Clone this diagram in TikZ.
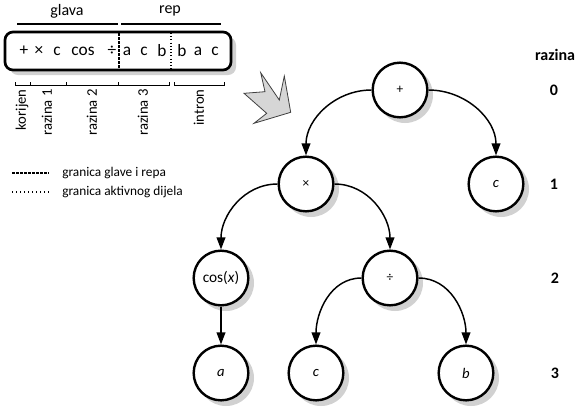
\documentclass[tikz,border=0pt]{standalone}
\usepackage{fontspec}
\setmainfont{Carlito}
\usetikzlibrary{arrows.meta}
\pgfdeclarelayer{background}
\pgfsetlayers{background,main}

\tikzset{every picture/.style={line width=0.45pt}}
\tikzset{
  knot/.style={circle, draw, line width=1.8pt, fill=white, minimum size=41pt, inner sep=0pt},
  edge/.style={line width=1.1pt, -{Triangle[length=9pt,width=6.5pt]}},
  level/.style={font=\fontsize{12}{14}\bfseries\selectfont},
  gene/.style={inner sep=0pt, font=\fontsize{13}{15}\selectfont},
  part/.style={rotate=90, anchor=east, inner sep=0pt, font=\fontsize{11}{13}\selectfont},
  legend/.style={anchor=west, inner sep=0pt, font=\fontsize{10}{12}\selectfont}
}

\begin{document}
\begin{tikzpicture}[x=0.75pt,y=0.75pt,yscale=-1,xscale=1]
\useasboundingbox (0,0) rectangle (581,415);

%Rounded Rect: gene string
\fill [black!18, rounded corners=6pt] (10,37) rectangle (236,75);
\draw [line width=2pt, rounded corners=6pt, fill=white] (5,32) rectangle (231,70);
\draw [line width=0.8pt, dash pattern={on 2pt off 1pt}] (119,33) -- (119,69);
\draw [line width=0.8pt, dash pattern={on 0.8pt off 1.6pt}] (171,33) -- (171,69);
% Text Node
\foreach \x/\s [count=\i] in {24/+, 39/×, 57/c, 83/cos, 112/÷, 127/a, 144/c, 162/b, 182/b, 198/a, 215/c}
  \node [gene] (g\i) at (\x,51) {\s};

%Straight Lines: head and tail
\draw [line width=1.1pt] (17,24) -- (118,24);
\draw [line width=1.1pt] (121,24) -- (221,24);
\node [font=\fontsize{12}{14}\selectfont] (glava) at (67,11) {glava};
\node [font=\fontsize{12}{14}\selectfont] (rep) at (170,11) {rep};

%Brackets below
\draw [line width=0.7pt] (15,82) -- (15,85) -- (169,85) -- (169,82);
\foreach \x in {30,66,118} \draw [line width=0.7pt] (\x,82) -- (\x,85);
\draw [line width=0.7pt] (174,82) -- (174,85) -- (224,85) -- (224,82);
% Text Node
\node [part] (korijen) at (22,89) {korijen};
\node [part] (raz1) at (47,89) {razina 1};
\node [part] (raz2) at (92,89) {razina 2};
\node [part] (raz3) at (143,89) {razina 3};
\node [part] (intron) at (199,89) {intron};

%Legend
\draw [line width=0.8pt, dash pattern={on 2pt off 1pt}] (12,173) -- (49,173);
\node [legend] (leg1) at (62,173) {granica glave i repa};
\draw [line width=0.8pt, dash pattern={on 0.8pt off 2.2pt}] (12,192) -- (49,192);
\node [legend] (leg2) at (62,192) {granica aktivnog dijela};

%Big arrow
\draw [draw=black!75, fill=black!16, line width=0.6pt] (260.7,72.7) -- (279.3,100) -- (284.3,76) -- (290.7,112.3) -- (254,123.3) -- (266.7,113.3) -- (244,93.3) -- (265,91.7) -- cycle;

%Tree
\node [knot, font=\fontsize{10}{12}\selectfont] (plus) at (400,90) {+};
\node [knot, font=\fontsize{10}{12}\selectfont] (times) at (306,184) {×};
\node [knot, font=\fontsize{11}{13}\itshape\selectfont] (c1) at (496,184) {c};
\node [knot, font=\fontsize{11.5}{13}\selectfont] (cos) at (221,278) {cos(\textit{x})};
\node [knot, font=\fontsize{10}{12}\selectfont] (div) at (390,278) {÷};
\node [knot, font=\fontsize{11}{13}\itshape\selectfont] (a) at (221,373) {a};
\node [knot, font=\fontsize{11}{13}\itshape\selectfont] (c2) at (316,373) {c};
\node [knot, font=\fontsize{11}{13}\itshape\selectfont] (b) at (466,373) {b};

% shadows behind the knots
\begin{pgfonlayer}{background}
\foreach \n in {plus,times,c1,cos,div,a,c2,b}
  \fill [black!18] ([shift={(5,5)}]\n.center) circle (21pt);
\end{pgfonlayer}

\draw [edge] (plus.west) to[out=180,in=270] (times.north);
\draw [edge] (plus.east) to[out=0,in=270] (c1.north);
\draw [edge] (times.west) to[out=180,in=270] (cos.north);
\draw [edge] (times.east) to[out=0,in=270] (div.north);
\draw [edge] (cos.south) -- (a.north);
\draw [edge] (div.west) to[out=180,in=270] (c2.north);
\draw [edge] (div.east) to[out=0,in=270] (b.north);

%Levels
\node [level] (razina) at (555,55) {razina};
\node [level] (l0) at (554,90) {0};
\node [level] (l1) at (554,184) {1};
\node [level] (l2) at (555,278) {2};
\node [level] (l3) at (555,373) {3};

\end{tikzpicture}
\end{document}
